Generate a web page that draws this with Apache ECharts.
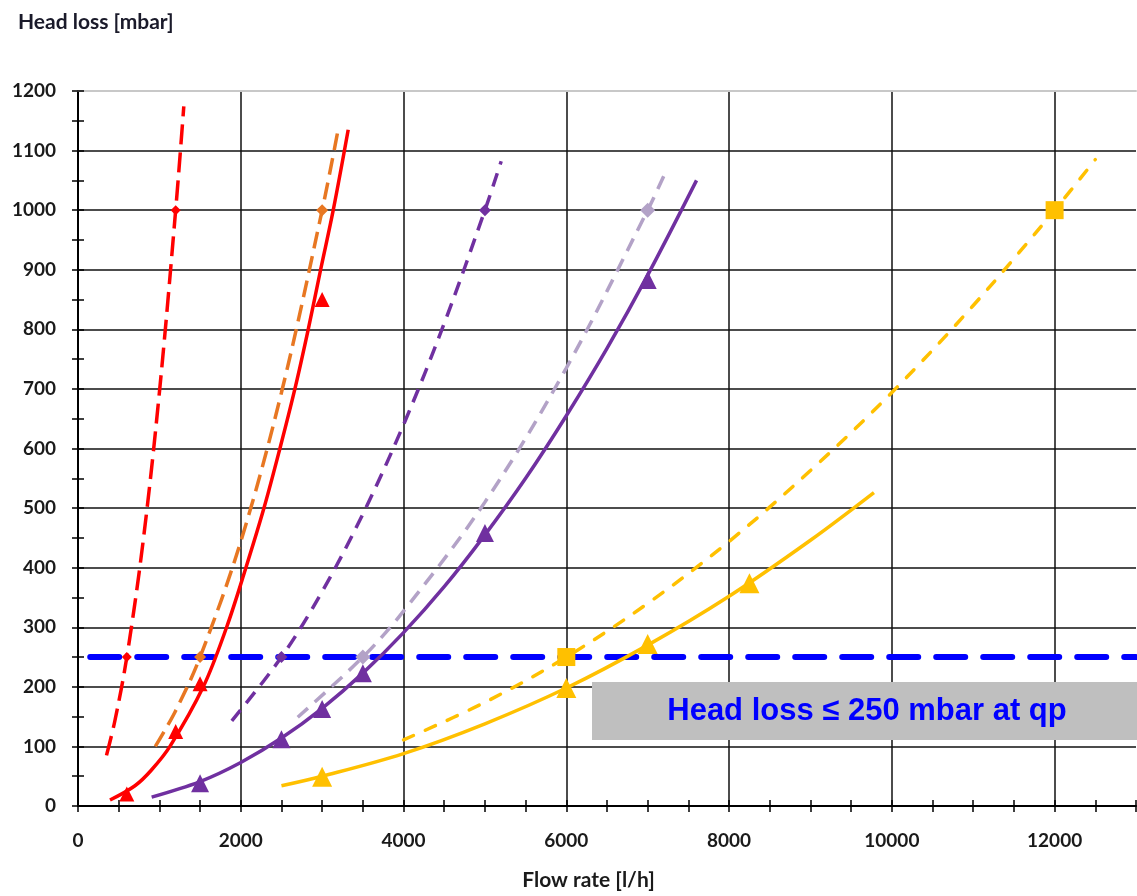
<!DOCTYPE html>
<html>
<head>
<meta charset="utf-8">
<script src="https://cdn.jsdelivr.net/npm/echarts@6/dist/echarts.min.js"></script>
<style>
html,body{margin:0;padding:0;background:#fff;}
#chart{width:1137px;height:896px;}
</style>
</head>
<body>
<div id="chart"></div>
<script>
// ---- data ----
const redDashLine = [[350,85],[450,141],[600,250],[800,444],[1000,694],[1200,1000],[1300,1174]];
const redDashPts = [[600,250],[1200,1000]];
const orangeDashLine = [[950,100],[1200,160],[1500,250],[2000,444],[2500,694],[3000,1000],[3200,1138]];
const orangeDashPts = [[1500,250],[3000,1000]];
const purpleDashLine = [[1890,143],[2500,250],[3000,360],[3500,490],[4000,640],[4500,810],[5000,1000],[5200,1082]];
const purpleDashPts = [[2500,250],[5000,1000]];
const lavDashLine = [[2700,149],[3500,250],[4000,327],[5000,510],[6000,735],[7000,1000],[7200,1058]];
const lavDashPts = [[3500,250],[7000,1000]];
const goldDashLine = [[4000,111],[5000,174],[6000,250],[7000,340],[8000,444],[9000,563],[10000,694],[11000,840],[12000,1000],[12500,1085]];
const goldDashPts = [[6000,250],[12000,1000]];
const redSolidLine = [[393,10],[700,34],[900,60],[1130,100],[1539,200],[1826,300],[2063,400],[2285,500],[2481,600],[2665,700],[2829,800],[2981,900],[3136,1000],[3320,1135]];
const redSolidPts = [[600,20],[1200,125],[1500,205],[3000,850]];
const purpleSolidLine = [[905,15],[1500,41],[2000,73],[2500,114],[3000,164],[3500,223],[4000,291],[4500,368],[5000,455],[5500,550],[6000,655],[6500,768],[7000,891],[7600,1050]];
const purpleSolidPts = [[1500,38],[2500,112],[3000,163],[3500,223],[5000,458],[7000,883]];
const goldSolidLine = [[2500,34],[3000,50],[4000,88],[5000,138],[6000,198],[7000,270],[8000,352],[9000,446],[9780,526]];
const goldSolidPts = [[3000,49],[6000,198],[7000,272],[8250,374]];
const limitLine = [[150,250],[13000,250]];
const limitText = 'Head loss ≤ 250 mbar at qp';
const yTitle = 'Head loss [mbar]';
const xTitle = 'Flow rate [l/h]';

const RED='#FF0000', ORANGE='#E87722', PURPLE='#7030A0', LAV='#B3A2C7', GOLD='#FFC000', BLUE='#0000FF';
const FONT = 'Lato';
const LBL = '#1a1a1a';
const GRID = '#111';

function lineS(data,color,type,width,cap){
  return {type:'line',data:data,smooth:0.35,showSymbol:false,symbol:'none',z:3,
    lineStyle:{color:color,width:width||3.5,type:type,cap:cap||'butt'},silent:true,clip:false};
}
function ptsS(data,color,symbol,size){
  return {type:'line',data:data,symbol:symbol,symbolSize:size,z:4,
    lineStyle:{width:0,opacity:0},itemStyle:{color:color,opacity:1},silent:true,clip:false};
}
function tickAxis(interval,max,inside,pos){
  return {type:'value',min:0,max:max,interval:interval,position:pos,
    axisLine:{show:false,onZero:false},axisLabel:{show:false},splitLine:{show:false},
    axisTick:{show:true,inside:inside,length:6,lineStyle:{color:'#000',width:1.5}}};
}

const chart = echarts.init(document.getElementById('chart'),null,{renderer:'canvas'});
chart.setOption({
  animation:false,
  backgroundColor:'#fff',
  title:{text:yTitle,left:13,top:7,textStyle:{fontFamily:FONT,fontWeight:'bold',fontSize:21,color:'#1a1a2a'}},
  grid:{left:78,right:1,top:91,bottom:85,containLabel:false},
  xAxis:[
    {type:'value',min:0,max:13000,interval:2000,
     axisLine:{show:true,lineStyle:{color:'#000',width:2}},
     axisTick:{show:false},
     splitLine:{show:true,showMaxLine:false,lineStyle:{color:GRID,width:1.5}},
     axisLabel:{fontFamily:FONT,fontWeight:'bold',fontSize:19,color:LBL,margin:25,showMaxLabel:false,
       formatter:function(v){return String(v);}},
     name:xTitle,nameLocation:'middle',nameGap:64,
     nameTextStyle:{fontFamily:FONT,fontWeight:'bold',fontSize:21,color:LBL,padding:[0,37,0,0]}},
    tickAxis(500,13000,false,'bottom'),
    tickAxis(500,13000,true,'bottom'),
    {type:'value',min:0,max:13000,position:'top',
     axisLine:{show:true,onZero:false,lineStyle:{color:'#C8C8C8',width:2}},
     axisTick:{show:false},axisLabel:{show:false},splitLine:{show:false}}
  ],
  yAxis:[
    {type:'value',min:0,max:1200,interval:100,
     axisLine:{show:true,lineStyle:{color:'#000',width:2}},
     axisTick:{show:false},
     splitLine:{show:true,showMaxLine:false,lineStyle:{color:GRID,width:1.5}},
     axisLabel:{fontFamily:FONT,fontWeight:'bold',fontSize:19,color:LBL,margin:22,
       formatter:function(v){return String(v);}}},
    tickAxis(50,1200,false,'left'),
    tickAxis(50,1200,true,'left')
  ],
  graphic:[
    {type:'rect',shape:{x:592,y:682,width:560,height:58},style:{fill:'#BFBFBF'},z:100},
    {type:'text',x:867,y:711,z:101,style:{text:limitText,fill:BLUE,font:'bold 31px "Liberation Sans", Arial, sans-serif',align:'center',verticalAlign:'middle'}}
  ],
  series:[
    Object.assign(lineS(limitLine,BLUE,[29,18],6,'round'),{z:2,smooth:false}),
    lineS(redDashLine,RED,[20,8]),
    lineS(orangeDashLine,ORANGE,[17,8]),
    lineS(purpleDashLine,PURPLE,[14,9]),
    lineS(lavDashLine,LAV,[14,9]),
    lineS(goldDashLine,GOLD,[11,13],3.5,'round'),
    lineS(redSolidLine,RED,'solid'),
    lineS(purpleSolidLine,PURPLE,'solid'),
    lineS(goldSolidLine,GOLD,'solid'),
    ptsS(redDashPts,RED,'diamond',10),
    ptsS(orangeDashPts,ORANGE,'diamond',12),
    ptsS(purpleDashPts,PURPLE,'diamond',12),
    ptsS(lavDashPts,LAV,'diamond',15),
    ptsS(goldDashPts,GOLD,'rect',18),
    ptsS(redSolidPts,RED,'triangle',15),
    ptsS(purpleSolidPts,PURPLE,'triangle',18),
    ptsS(goldSolidPts,GOLD,'triangle',20)
  ]
});
</script>
</body>
</html>
